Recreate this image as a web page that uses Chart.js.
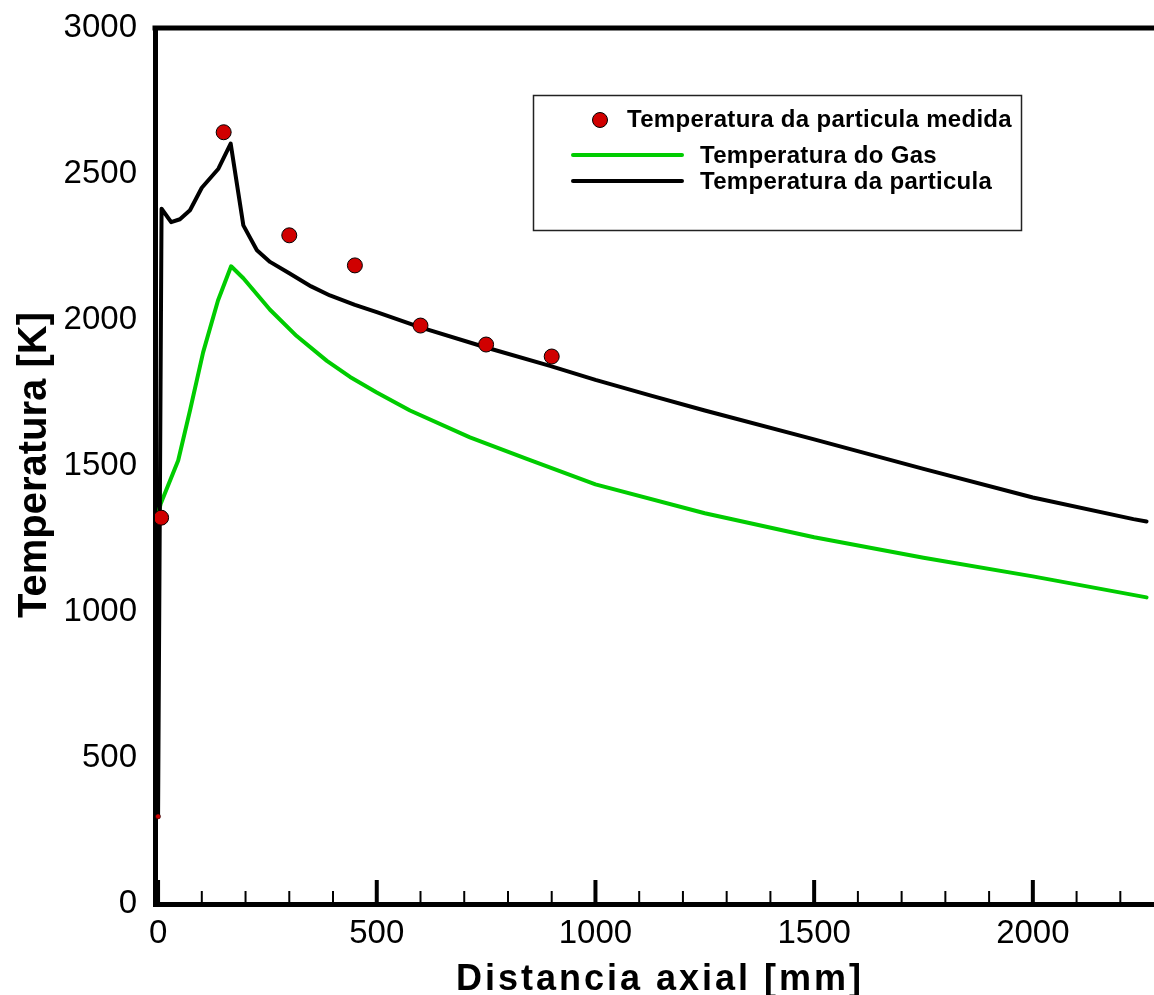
<!DOCTYPE html>
<html>
<head>
<meta charset="utf-8">
<script src="https://cdn.jsdelivr.net/npm/chart.js@4.4.0/dist/chart.umd.min.js"></script>
<style>
  html, body { margin: 0; padding: 0; background: #fff; }
  #wrap { width: 1154px; height: 995px; position: relative; }
</style>
</head>
<body>
<div id="wrap"><canvas id="grafico"></canvas></div>
<script>
// dados (x em mm, y em K)
const gasX = [0, 6, 46, 73, 103, 137, 167, 195, 256, 317, 386, 439, 500, 576, 713, 843, 1000, 1250, 1500, 1750, 2000, 2260];
const gasT = [1330, 1371, 1519, 1690, 1889, 2067, 2184, 2143, 2035, 1945, 1860, 1805, 1752, 1690, 1598, 1524, 1437, 1338, 1256, 1186, 1122, 1050];

const partX = [0, 8, 30, 50, 73, 100, 138, 166, 195, 226, 256, 300, 350, 393, 450, 500, 600, 752, 896, 1000, 1125, 1250, 1500, 1750, 2000, 2230, 2260];
const partT = [300, 2381, 2335, 2345, 2376, 2453, 2518, 2604, 2324, 2239, 2199, 2160, 2115, 2084, 2052, 2027, 1975, 1905, 1843, 1795, 1742, 1690, 1591, 1490, 1392, 1318, 1310];

const medX = [0, 7, 150, 300, 450, 600, 750, 900];
const medT = [300, 1323, 2643, 2290, 2187, 1981, 1916, 1875];

const xTicks = [0, 500, 1000, 1500, 2000];
const yTicks = [0, 500, 1000, 1500, 2000, 2500, 3000];

const FONTE = "'Liberation Sans', Arial, sans-serif";

function pares(xs, ys) {
    return xs.map((x, i) => ({ x: x, y: ys[i] }));
}

// ticks para dentro, linha de cima, títulos e legenda
const extras = {
    id: 'extras',
    afterDraw(chart) {
        const ctx = chart.ctx;
        const area = chart.chartArea;
        const sx = chart.scales.x;
        ctx.save();
        ctx.strokeStyle = '#000';
        ctx.lineCap = 'butt';
        for (let v = 0; v <= sx.max; v += 100) {
            const px = sx.getPixelForValue(v);
            const major = xTicks.includes(v);
            ctx.lineWidth = major ? 4 : 2;
            ctx.beginPath();
            ctx.moveTo(px, area.bottom);
            ctx.lineTo(px, area.bottom - (major ? 24 : 13));
            ctx.stroke();
        }
        // linha superior
        ctx.lineWidth = 5;
        ctx.beginPath();
        ctx.moveTo(area.left - 2.5, area.top);
        ctx.lineTo(chart.width, area.top);
        ctx.stroke();

        // títulos
        ctx.fillStyle = '#000';
        ctx.font = 'bold 36px ' + FONTE;
        ctx.letterSpacing = '3px';
        ctx.textAlign = 'center';
        ctx.textBaseline = 'alphabetic';
        ctx.fillText('Distancia axial [mm]', 660, 990);
        ctx.letterSpacing = '0px';
        ctx.save();
        ctx.translate(46, 465);
        ctx.rotate(-Math.PI / 2);
        ctx.font = 'bold 40px ' + FONTE;
        ctx.fillText('Temperatura [K]', 0, 0);
        ctx.restore();

        // legenda
        const ds = chart.data.datasets;
        ctx.lineWidth = 1.5;
        ctx.strokeStyle = '#222';
        ctx.strokeRect(533.5, 95.5, 488, 135);
        ctx.font = 'bold 24px ' + FONTE;
        ctx.letterSpacing = '0.3px';
        ctx.textAlign = 'left';
        ctx.beginPath();
        ctx.arc(600, 120, 7.5, 0, Math.PI * 2);
        ctx.fillStyle = ds[0].backgroundColor;
        ctx.fill();
        ctx.lineWidth = 1;
        ctx.strokeStyle = '#000';
        ctx.stroke();
        ctx.fillStyle = '#000';
        ctx.fillText(ds[0].label, 627, 127);
        ctx.lineCap = 'round';
        ctx.lineWidth = 4;
        ctx.strokeStyle = ds[1].borderColor;
        ctx.beginPath(); ctx.moveTo(573, 155); ctx.lineTo(682, 155); ctx.stroke();
        ctx.fillText(ds[1].label, 700, 163);
        ctx.strokeStyle = ds[2].borderColor;
        ctx.beginPath(); ctx.moveTo(573, 181); ctx.lineTo(682, 181); ctx.stroke();
        ctx.fillText(ds[2].label, 700, 189);
        ctx.restore();
    }
};

new Chart(document.getElementById('grafico'), {
    type: 'scatter',
    data: {
        datasets: [
            {
                label: 'Temperatura da particula medida',
                data: pares(medX, medT),
                showLine: false,
                backgroundColor: '#d00000',
                borderColor: '#000',
                borderWidth: 1,
                pointRadius: ctx => ctx.dataIndex === 0 ? 2.5 : 7.5,
                pointBorderWidth: ctx => ctx.dataIndex === 0 ? 0.5 : 1,
                order: 0
            },
            {
                label: 'Temperatura do Gas',
                data: pares(gasX, gasT),
                showLine: true,
                borderColor: '#00cc00',
                backgroundColor: '#00cc00',
                borderWidth: 4,
                pointRadius: 0,
                tension: 0,
                borderCapStyle: 'round',
                borderJoinStyle: 'round',
                order: 2
            },
            {
                label: 'Temperatura da particula',
                data: pares(partX, partT),
                showLine: true,
                borderColor: '#000',
                backgroundColor: '#000',
                borderWidth: 4,
                pointRadius: 0,
                tension: 0,
                borderCapStyle: 'round',
                borderJoinStyle: 'round',
                order: 1
            }
        ]
    },
    options: {
        responsive: true,
        maintainAspectRatio: false,
        animation: false,
        layout: { autoPadding: false, padding: { top: 28, right: 0, left: 0, bottom: 0 } },
        plugins: {
            legend: { display: false },
            tooltip: { enabled: false }
        },
        scales: {
            x: {
                type: 'linear',
                min: -7,
                max: 2277,
                afterFit: s => { s.height = 91; },
                afterBuildTicks: s => { s.ticks = xTicks.map(v => ({ value: v })); },
                grid: { display: false, drawTicks: false },
                border: { display: true, color: '#000', width: 5 },
                ticks: {
                    color: '#000',
                    padding: 10,
                    maxRotation: 0,
                    callback: v => String(v),
                    font: { family: FONTE, size: 33 }
                }
            },
            y: {
                type: 'linear',
                min: 0,
                max: 3000,
                z: 1,
                afterFit: s => { s.width = 155; s.paddingTop = 0; s.paddingBottom = 0; },
                afterBuildTicks: s => { s.ticks = yTicks.map(v => ({ value: v })); },
                grid: { display: false, drawTicks: false },
                border: { display: true, color: '#000', width: 5 },
                ticks: {
                    color: '#000',
                    padding: 18,
                    callback: v => String(v),
                    font: { family: FONTE, size: 33, lineHeight: 0.6 }
                }
            }
        }
    },
    plugins: [extras]
});
</script>
</body>
</html>
